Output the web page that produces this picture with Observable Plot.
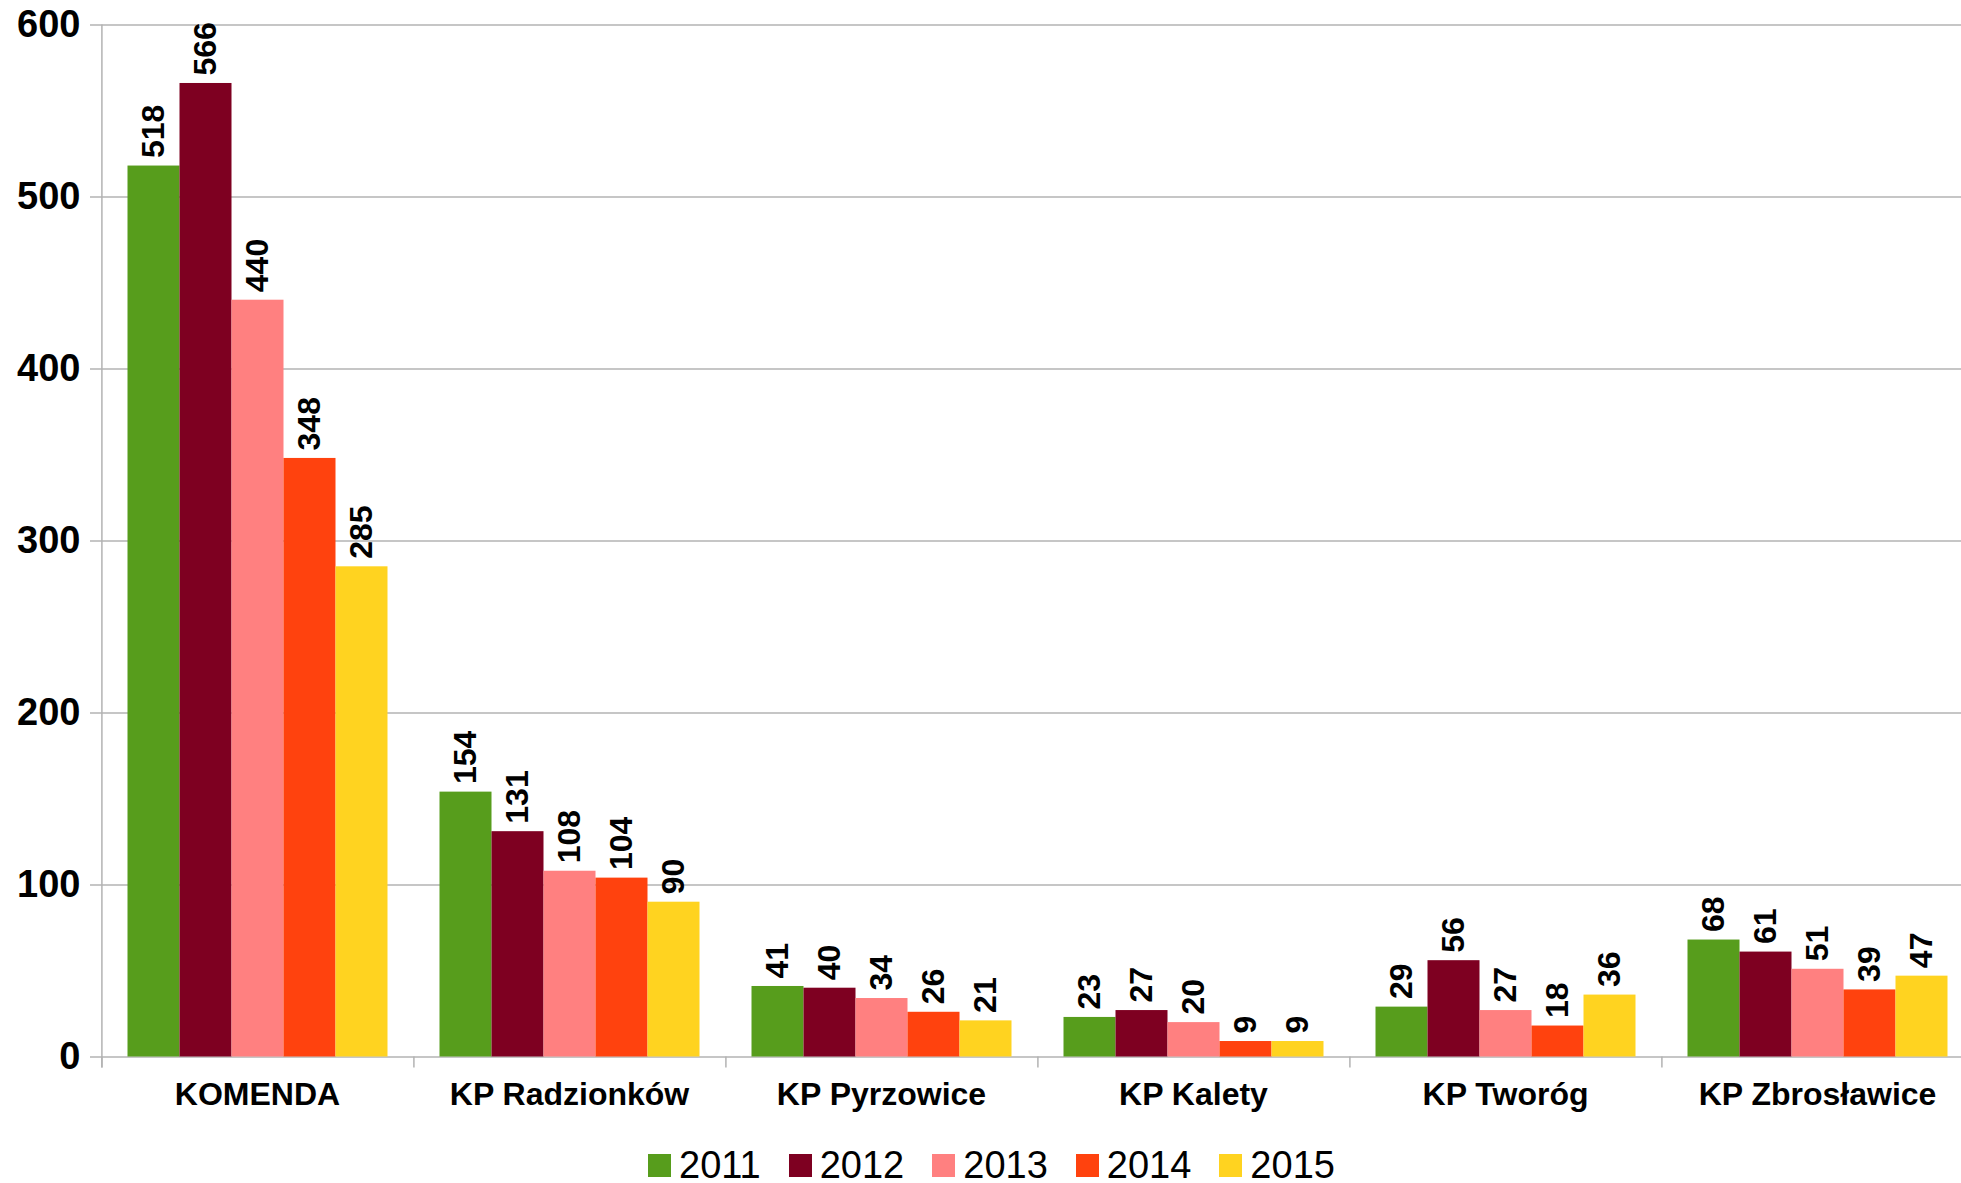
<!DOCTYPE html>
<html>
<head>
<meta charset="utf-8">
<script src="https://cdn.jsdelivr.net/npm/d3@7"></script>
<script src="https://cdn.jsdelivr.net/npm/@observablehq/plot@0.6"></script>
<style>
  html, body { margin: 0; padding: 0; background: #fff; overflow: hidden; }
  body { font-family: "Liberation Sans", Arial, sans-serif; width: 1961px; height: 1183px; }
  #chart svg { display: block; max-width: none !important; }
  #legend { display: flex; align-items: center; margin-top: 22px; margin-left: 648px; font-size: 38px; line-height: 37px; color: #000; }
  #legend .item { display: flex; align-items: center; margin-right: 28px; }
  #legend .sw { width: 23px; height: 23px; margin-right: 8px; }
</style>
</head>
<body>
<div id="chart"></div>
<div id="legend"></div>
<script>
const categories = ["KOMENDA", "KP Radzionków", "KP Pyrzowice", "KP Kalety", "KP Tworóg", "KP Zbrosławice"];
const years = ["2011", "2012", "2013", "2014", "2015"];
const colors = ["#579d1c", "#7e0021", "#ff8080", "#ff420e", "#ffd320"];
const v2011 = [518, 154, 41, 23, 29, 68];
const v2012 = [566, 131, 40, 27, 56, 61];
const v2013 = [440, 108, 34, 20, 27, 51];
const v2014 = [348, 104, 26, 9, 18, 39];
const v2015 = [285, 90, 21, 9, 36, 47];
const yTicks = [0, 100, 200, 300, 400, 500, 600];

const series = [v2011, v2012, v2013, v2014, v2015];
const data = [];
categories.forEach((c, i) => {
  years.forEach((y, j) => data.push({category: c, year: y, value: series[j][i]}));
});

const W = 1975, H = 1125, ML = 99.5, MR = 0, MT = 24.5, MB = 68.5;
const band = (W - ML - MR) / categories.length;
const step = band / (years.length + 1);
const plotH = H - MT - MB;
const gray = "#b3b3b3";

const chart = Plot.plot({
  width: W,
  height: H,
  marginLeft: ML,
  marginRight: MR,
  marginTop: MT,
  marginBottom: MB,
  style: {fontFamily: "'Liberation Sans', Arial, sans-serif", background: "white", color: "black", maxWidth: "none"},
  fx: {domain: categories, padding: 0, label: null},
  x: {domain: years, paddingInner: 0, paddingOuter: 0.5, axis: null},
  y: {domain: [0, 600], label: null},
  color: {domain: years, range: colors},
  marks: [
    Plot.gridY(yTicks, {stroke: gray, strokeOpacity: 1, strokeWidth: 1.5}),
    Plot.barY(data, {fx: "category", x: "year", y: "value", fill: "year", inset: 0}),
    Plot.text(data, {fx: "category", x: "year", y: "value", text: d => String(d.value), rotate: -90, textAnchor: "start", dy: -8, fontSize: 32, fontWeight: "bold", fill: "black"}),
    Plot.ruleX(categories, {fx: d => d, x: () => years[0], dx: -step, stroke: gray, strokeWidth: 1.5, insetTop: plotH, insetBottom: -11}),
    Plot.ruleX([categories[0]], {fx: d => d, x: () => years[0], dx: -step, stroke: gray, strokeWidth: 1.5, insetBottom: -11}),
    Plot.axisY({ticks: yTicks, tickSize: 11, tickPadding: 10, stroke: gray, strokeWidth: 1.5, fill: "black", fontSize: 38, fontWeight: "bold", label: null}),
    Plot.axisFx({anchor: "bottom", tickSize: 0, tickPadding: 25, fontSize: 32, fontWeight: "bold", fill: "black", label: null})
  ]
});
document.getElementById("chart").appendChild(chart);

const legend = document.getElementById("legend");
years.forEach((y, j) => {
  const item = document.createElement("div");
  item.className = "item";
  const sw = document.createElement("span");
  sw.className = "sw";
  sw.style.background = colors[j];
  const t = document.createElement("span");
  t.textContent = y;
  item.appendChild(sw);
  item.appendChild(t);
  legend.appendChild(item);
});
</script>
</body>
</html>
